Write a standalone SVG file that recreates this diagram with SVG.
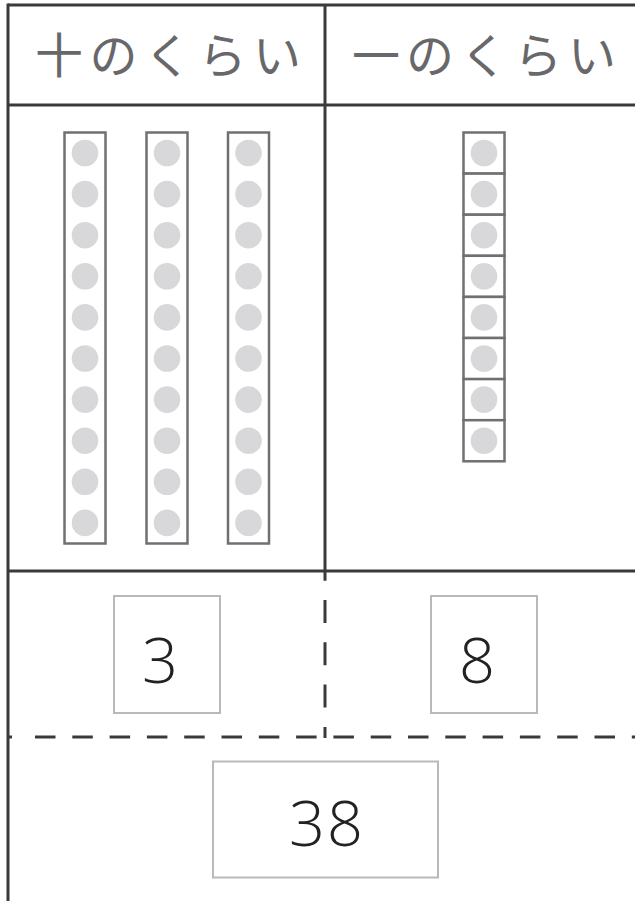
<svg xmlns="http://www.w3.org/2000/svg" width="635" height="901" viewBox="0 0 635 901">
<style>
.ln{stroke:#3a3a3a;stroke-width:3;fill:none}
.dsh{stroke:#3a3a3a;stroke-width:3;fill:none}
.rod{fill:#fff;stroke:#707072;stroke-width:2.5}
.dot{fill:#d8d8da}
.box{fill:#fff;stroke:#b9b9bd;stroke-width:2}
.hd{font-family:"Noto Sans CJK JP","Noto Sans CJK SC",sans-serif;font-size:48px;fill:#68686a;text-anchor:middle}
.num{font-family:"Open Sans","Noto Sans",sans-serif;font-size:63px;font-weight:300;fill:#222;text-anchor:middle}
</style>
<defs>
<g id="ten">
<rect class="rod" x="-20.5" y="132.5" width="41" height="411"/>
<circle class="dot" cx="0" cy="153" r="13.3"/>
<circle class="dot" cx="0" cy="194.1" r="13.3"/>
<circle class="dot" cx="0" cy="235.2" r="13.3"/>
<circle class="dot" cx="0" cy="276.3" r="13.3"/>
<circle class="dot" cx="0" cy="317.4" r="13.3"/>
<circle class="dot" cx="0" cy="358.5" r="13.3"/>
<circle class="dot" cx="0" cy="399.6" r="13.3"/>
<circle class="dot" cx="0" cy="440.7" r="13.3"/>
<circle class="dot" cx="0" cy="481.8" r="13.3"/>
<circle class="dot" cx="0" cy="522.9" r="13.3"/>
</g>
</defs>
<rect width="635" height="901" fill="#fff"/>
<g id="connectors">
<line class="ln" x1="8" y1="5" x2="635" y2="5"/>
<line class="ln" x1="8" y1="3.5" x2="8" y2="901"/>
<line class="ln" x1="8" y1="105" x2="635" y2="105"/>
<line class="ln" x1="325" y1="5" x2="325" y2="571"/>
<line class="ln" x1="8" y1="571" x2="635" y2="571"/>
<line class="dsh" x1="325" y1="571" x2="325" y2="738" stroke-dasharray="23 19.3" stroke-dashoffset="13.3"/>
<line class="dsh" x1="8" y1="737" x2="12" y2="737"/>
<line class="dsh" x1="35" y1="737" x2="635" y2="737" stroke-dasharray="20.5 16.8"/>
</g>
<g id="header-tens">
<text class="hd" y="73" x="59 113.5 168 222.5 277">十のくらい</text>
</g>
<g id="header-ones">
<text class="hd" y="73" x="376 430 484 538 592">一のくらい</text>
</g>
<g id="tens-rods">
<use href="#ten" x="85"/>
<use href="#ten" x="167"/>
<use href="#ten" x="248.5"/>
</g>
<g id="ones-cubes">
<rect class="rod" x="463.5" y="132.5" width="41" height="41.1"/>
<rect class="rod" x="463.5" y="173.6" width="41" height="41.1"/>
<rect class="rod" x="463.5" y="214.7" width="41" height="41.1"/>
<rect class="rod" x="463.5" y="255.8" width="41" height="41.1"/>
<rect class="rod" x="463.5" y="296.9" width="41" height="41.1"/>
<rect class="rod" x="463.5" y="338" width="41" height="41.1"/>
<rect class="rod" x="463.5" y="379.1" width="41" height="41.1"/>
<rect class="rod" x="463.5" y="420.2" width="41" height="41.1"/>
<circle class="dot" cx="484" cy="153" r="13.3"/>
<circle class="dot" cx="484" cy="194.1" r="13.3"/>
<circle class="dot" cx="484" cy="235.2" r="13.3"/>
<circle class="dot" cx="484" cy="276.3" r="13.3"/>
<circle class="dot" cx="484" cy="317.4" r="13.3"/>
<circle class="dot" cx="484" cy="358.5" r="13.3"/>
<circle class="dot" cx="484" cy="399.6" r="13.3"/>
<circle class="dot" cx="484" cy="440.7" r="13.3"/>
</g>
<g id="box-tens">
<rect class="box" x="114" y="596" width="106" height="117"/>
<text class="num" x="160" y="683">3</text>
</g>
<g id="box-ones">
<rect class="box" x="431" y="596" width="106" height="117"/>
<text class="num" x="477" y="683">8</text>
</g>
<g id="box-total">
<rect class="box" x="213" y="761.5" width="225" height="116"/>
<text class="num" x="327" y="846" letter-spacing="2">38</text>
</g>
</svg>
